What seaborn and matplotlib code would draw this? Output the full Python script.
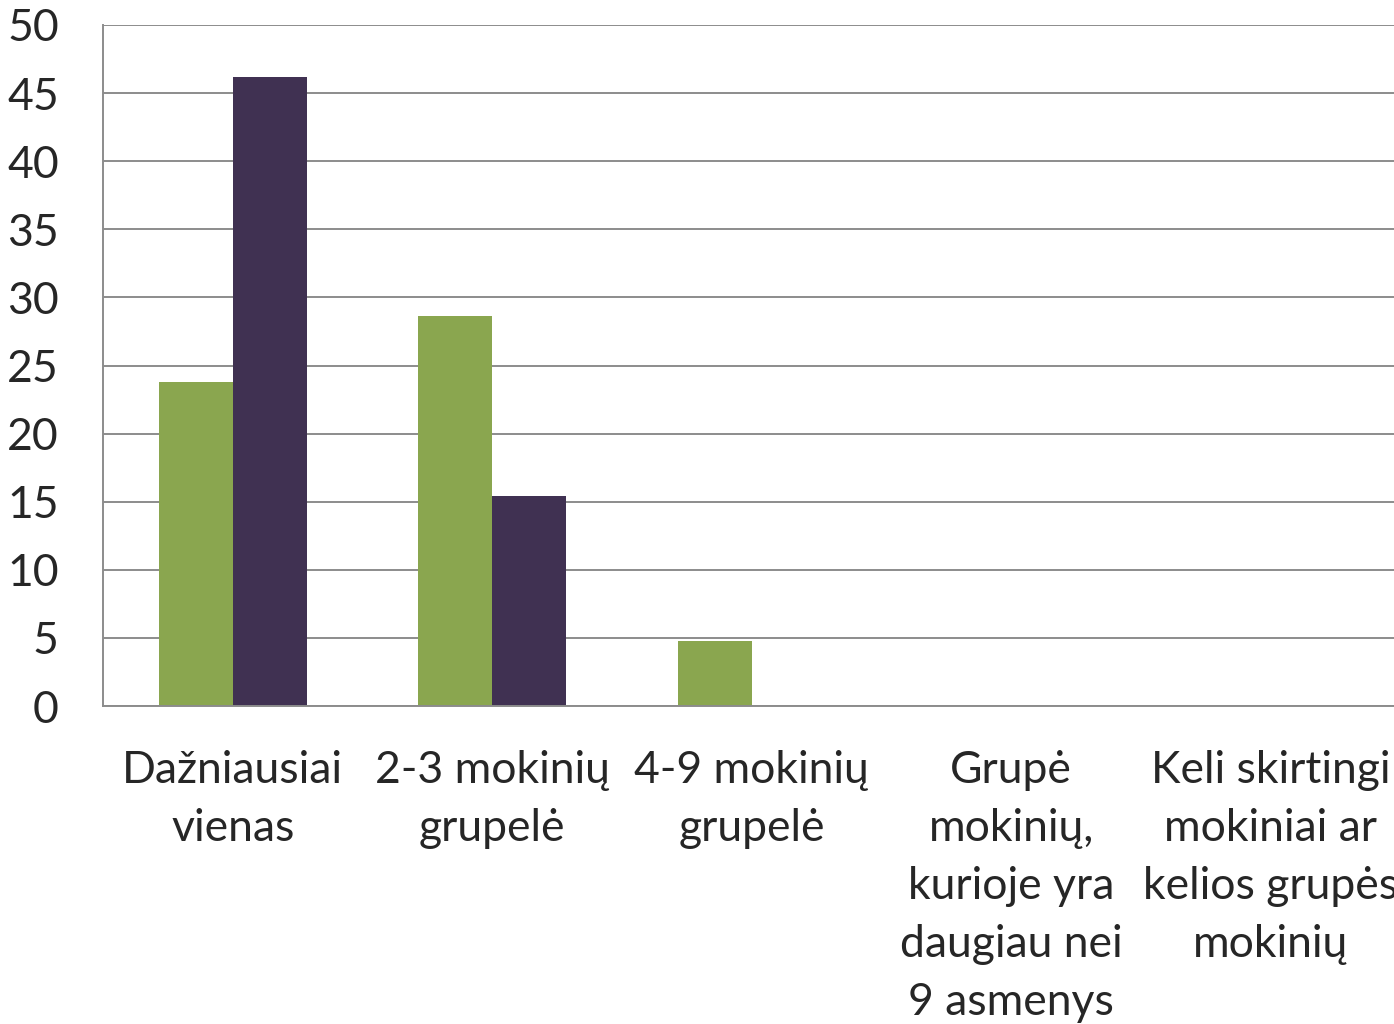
import matplotlib
matplotlib.use('Agg')
import matplotlib.pyplot as plt
import seaborn as sns
import pandas as pd
import numpy as np

categories = ['Dažniausiai\nvienas', '2-3 mokinių\ngrupelė', '4-9 mokinių\ngrupelė',
              'Grupė\nmokinių,\nkurioje yra\ndaugiau nei\n9 asmenys',
              'Keli skirtingi\nmokiniai ar\nkelios grupės\nmokinių']
series_a = [23.8, 28.6, 4.8, 0, 0]
series_b = [46.2, 15.4, 0, 0, 0]
series_names = ['A', 'B']
colors = ['#8AA64F', '#403152']

df = pd.DataFrame({
    'cat': categories * 2,
    'val': series_a + series_b,
    'series': [series_names[0]] * len(categories) + [series_names[1]] * len(categories),
})

sns.set_style('white')
plt.rcParams['font.family'] = ['Lato', 'DejaVu Sans']

fig = plt.figure(figsize=(13.94, 10.24), dpi=100)
ax = fig.add_axes([0.0739, 0.3105, 0.9308, 0.6651])

sns.barplot(data=df, x='cat', y='val', hue='series', palette=colors,
            width=0.57, legend=False, ax=ax, linewidth=0, saturation=1)

grid_c = '#8C8C8C'
ax.set_ylim(0, 50)
ax.set_yticks(np.arange(0, 51, 5))
ax.yaxis.grid(True, color=grid_c, linewidth=1.4)
ax.set_axisbelow(True)
ax.set_xlim(-0.5, 4.5)

for s in ['top', 'right']:
    ax.spines[s].set_visible(False)
for s in ['left', 'bottom']:
    ax.spines[s].set_color(grid_c)
    ax.spines[s].set_linewidth(1.4)

ax.tick_params(axis='y', length=10.8, width=1.4, color=grid_c, pad=21, labelsize=32)
ax.set_xticks(range(len(categories)))
ax.set_xticklabels(categories, fontsize=32, linespacing=1.51)
ax.tick_params(axis='x', which='major', length=0, pad=32)
ax.set_xticks(np.arange(-0.5, 5, 1), minor=True)
ax.tick_params(axis='x', which='minor', length=10.8, width=1.4, color=grid_c)
ax.set_xlabel('')
ax.set_ylabel('')

fig.savefig('out.png', dpi=100)
